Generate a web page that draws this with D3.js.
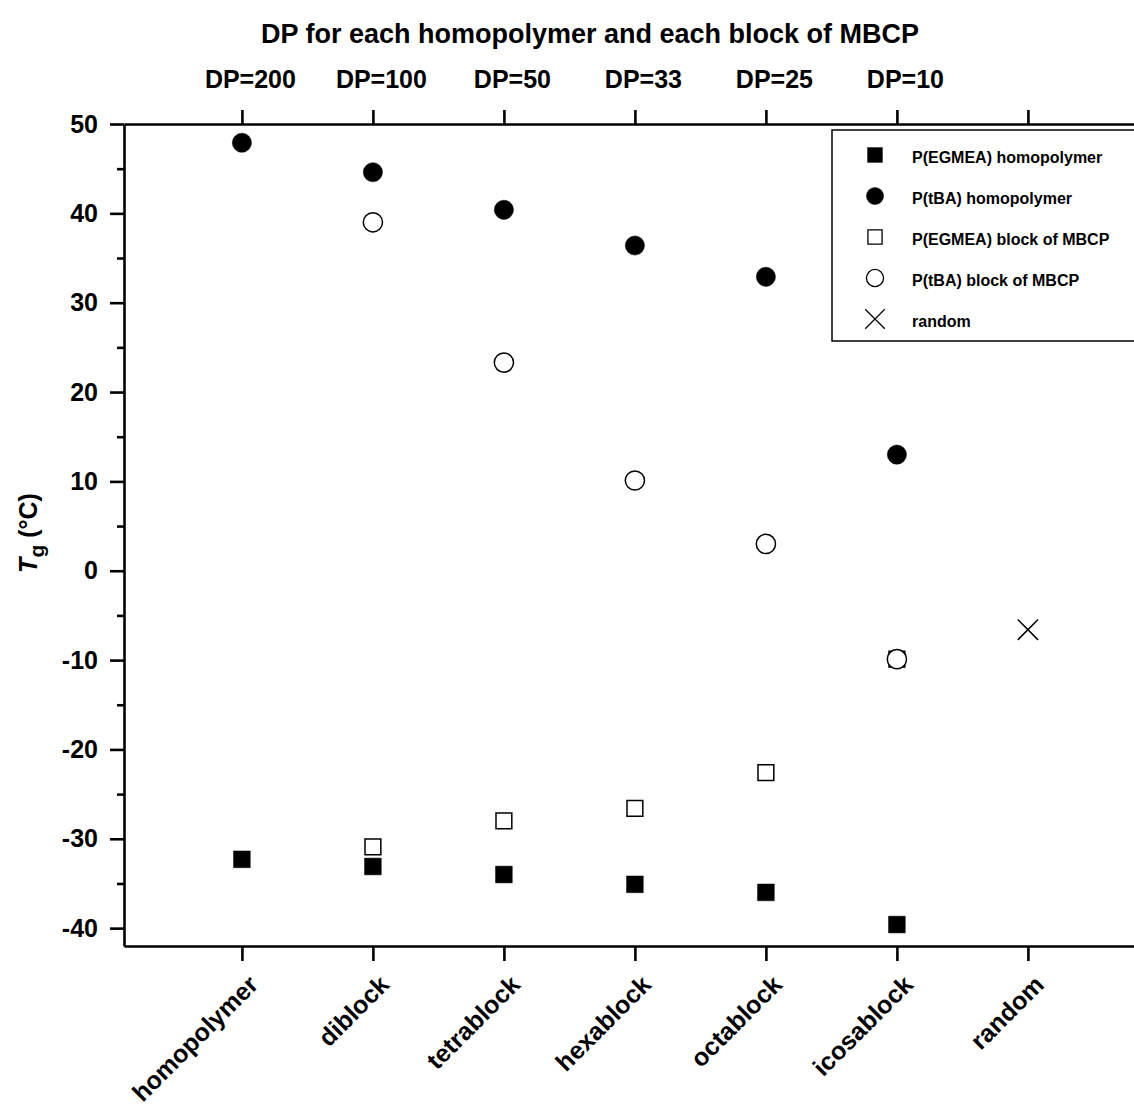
<!DOCTYPE html>
<html>
<head>
<meta charset="utf-8">
<script src="https://cdn.jsdelivr.net/npm/d3@7"></script>
<style>
  body { margin: 0; background: #fff; }
  text { font-family: "Liberation Sans", Arial, sans-serif; font-weight: bold; fill: #000; }
</style>
</head>
<body>
<svg id="chart" width="1134" height="1115"></svg>
<script>
// categories along the bottom, DP values along the top
const categories = ['homopolymer', 'diblock', 'tetrablock', 'hexablock', 'octablock', 'icosablock', 'random'];
const dpLabels = ['DP=200', 'DP=100', 'DP=50', 'DP=33', 'DP=25', 'DP=10', ''];

// Tg values (°C), null where there is no point
const egmeaHomo = [-32.3, -33.1, -34.0, -35.1, -36.0, -39.6, null];
const tbaHomo = [47.9, 44.6, 40.4, 36.4, 32.9, 13.0, null];
const egmeaBlock = [null, -30.9, -28.0, -26.6, -22.6, -9.9, null];
const tbaBlock = [null, 39.0, 23.3, 10.1, 3.0, -9.9, null];
const randomTg = [null, null, null, null, null, null, -6.6];

const yTicks = [-40, -30, -20, -10, 0, 10, 20, 30, 40, 50];
const yMinorTicks = [-35, -25, -15, -5, 5, 15, 25, 35, 45];

const series = [
  {name: 'P(EGMEA) homopolymer', values: egmeaHomo, type: d3.symbolSquare, size: 280, legendSize: 220, fill: '#000'},
  {name: 'P(tBA) homopolymer', values: tbaHomo, type: d3.symbolCircle, size: 290, legendSize: 230, fill: '#000'},
  {name: 'P(EGMEA) block of MBCP', values: egmeaBlock, type: d3.symbolSquare, size: 250, legendSize: 200, fill: '#fff'},
  {name: 'P(tBA) block of MBCP', values: tbaBlock, type: d3.symbolCircle, size: 290, legendSize: 230, fill: '#fff'},
  {name: 'random', values: randomTg, type: d3.symbolX, size: 270, legendSize: 250, fill: 'none'},
];

const svg = d3.select('#chart');
const margin = {top: 124, left: 124, bottom: 946};

const x = d3.scaleLinear().domain([-0.9, 7.9]).range([margin.left, margin.left + 8.8 * 131]);
const y = d3.scaleLinear().domain([-42, 50]).range([margin.bottom, margin.top]);

// title
svg.append('text')
  .attr('x', 590).attr('y', 43)
  .attr('text-anchor', 'middle')
  .style('font-size', '27px')
  .text('DP for each homopolymer and each block of MBCP');

// left axis
const yAxis = d3.axisLeft(y).tickValues(yTicks).tickFormat(d => String(d))
  .tickSize(14).tickPadding(12).tickSizeOuter(0);
const gy = svg.append('g').attr('transform', `translate(${margin.left},0)`).call(yAxis);
gy.selectAll('text').style('font-size', '25px');
svg.append('g').attr('transform', `translate(${margin.left},0)`)
  .call(d3.axisLeft(y).tickValues(yMinorTicks).tickSize(7).tickFormat('').tickSizeOuter(0))
  .select('.domain').remove();

// bottom axis
const xAxis = d3.axisBottom(x).tickValues(d3.range(categories.length))
  .tickFormat(i => categories[i]).tickSize(15).tickSizeOuter(0);
const gx = svg.append('g').attr('transform', `translate(0,${margin.bottom})`).call(xAxis);
gx.selectAll('text')
  .style('font-size', '25px')
  .attr('text-anchor', 'end')
  .attr('transform', 'translate(11,34) rotate(-45)')
  .attr('y', 0).attr('x', 0).attr('dy', '0.35em');

// top axis
const topAxis = d3.axisTop(x).tickValues(d3.range(categories.length))
  .tickFormat(i => dpLabels[i]).tickSize(14).tickPadding(22).tickSizeOuter(0);
const gt = svg.append('g').attr('transform', `translate(0,${margin.top})`).call(topAxis);
gt.selectAll('text').style('font-size', '25px').attr('dx', 8);

svg.selectAll('.domain, .tick line').attr('stroke', '#000').attr('stroke-width', 2.6);

// y label
const ylab = svg.append('text')
  .attr('transform', 'translate(37,533) rotate(-90)')
  .attr('text-anchor', 'middle')
  .style('font-size', '25px');
ylab.append('tspan').style('font-style', 'italic').text('T');
ylab.append('tspan').attr('dy', 7).style('font-size', '21px').text('g');
ylab.append('tspan').attr('dy', -7).text(' (°C)');

// points
series.forEach(s => {
  const pts = s.values.map((v, i) => ({i, v})).filter(d => d.v !== null);
  svg.append('g').selectAll('path').data(pts).join('path')
    .attr('d', d3.symbol(s.type, s.size))
    .attr('transform', d => `translate(${x(d.i)},${y(d.v)})`)
    .attr('fill', s.fill)
    .attr('stroke', '#000')
    .attr('stroke-width', s.fill === '#000' ? 0.5 : 1.5);
});

// legend
const legend = svg.append('g').attr('transform', 'translate(832,130)');
legend.append('rect').attr('width', 330).attr('height', 211)
  .attr('fill', '#fff').attr('stroke', '#000').attr('stroke-width', 1.5);
series.forEach((s, k) => {
  const row = legend.append('g').attr('transform', `translate(0,${26 + k * 41})`);
  row.append('path')
    .attr('d', d3.symbol(s.type, s.legendSize))
    .attr('transform', 'translate(43,-1)')
    .attr('fill', s.fill)
    .attr('stroke', '#000')
    .attr('stroke-width', s.fill === '#000' ? 0.5 : 1.3);
  row.append('text').attr('x', 80).attr('y', 7)
    .style('font-size', '16px').text(s.name);
});
</script>
</body>
</html>
